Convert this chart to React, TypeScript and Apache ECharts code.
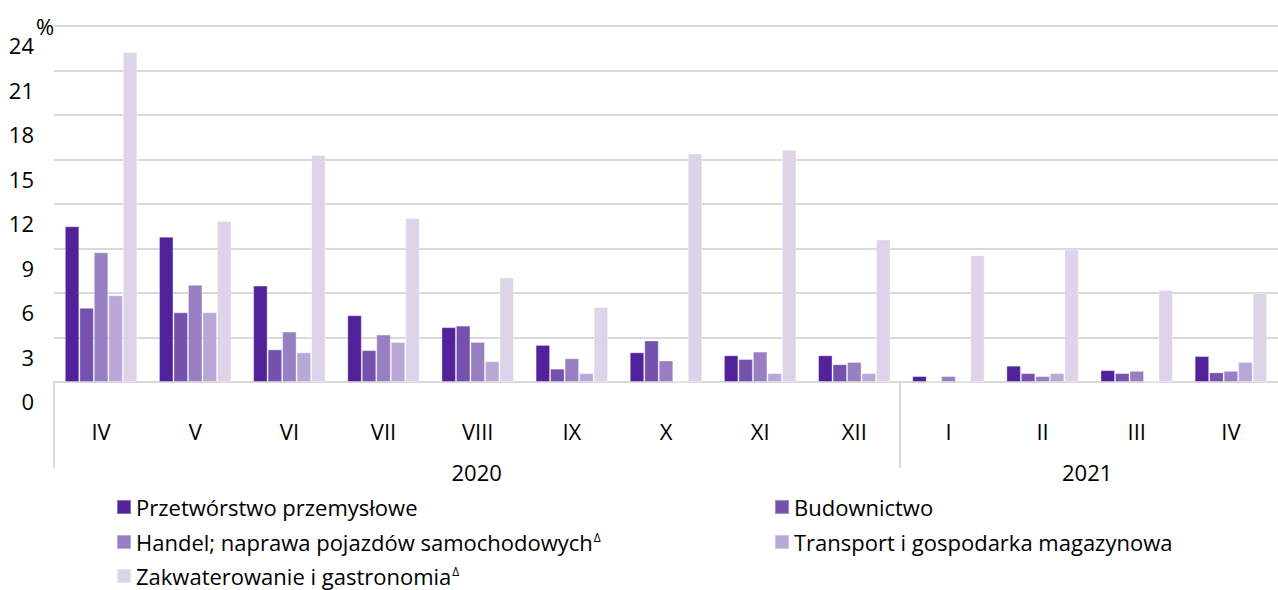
import React, { useEffect, useRef } from "react";
import * as echarts from "echarts";

const months = ["IV", "V", "VI", "VII", "VIII", "IX", "X", "XI", "XII", "I", "II", "III", "IV"];
const yearSlots = ["", "", "", "", "", "", "", "", "", "2020", "", "", "", "", "", "", "", "", "", "", "", "", "2021", "", "", "", ""];

const seriesNames = [
  "Przetwórstwo przemysłowe",
  "Budownictwo",
  "Handel; naprawa pojazdów samochodowych",
  "Transport i gospodarka magazynowa",
  "Zakwaterowanie i gastronomia",
];
const superscripted = [false, false, true, false, true];

const przetworstwo = [10.5, 9.8, 6.5, 4.5, 3.7, 2.5, 2.0, 1.8, 1.8, 0.4, 1.1, 0.8, 1.75];
const budownictwo = [5.0, 4.7, 2.2, 2.15, 3.8, 0.9, 2.8, 1.55, 1.2, 0, 0.6, 0.6, 0.65];
const handel = [8.75, 6.55, 3.4, 3.2, 2.7, 1.6, 1.45, 2.05, 1.35, 0.4, 0.4, 0.75, 0.75];
const transport = [5.85, 4.7, 2.0, 2.7, 1.4, 0.6, 0, 0.6, 0.6, 0, 0.6, 0, 1.35];
const zakwaterowanie = [22.25, 10.85, 15.3, 11.05, 7.05, 5.05, 15.4, 15.65, 9.6, 8.55, 8.95, 6.2, 6.0];

const seriesValues = [przetworstwo, budownictwo, handel, transport, zakwaterowanie];
const colors = ["#52229A", "#7551AE", "#977FC1", "#B9A7D7", "#DDD4EA"];

const yTicks = { min: 0, max: 24, interval: 3 };

// legend layout: [column, row] for each series
const legendSlots = [[0, 0], [1, 0], [0, 1], [1, 1], [0, 2]];

const FONT = "'Open Sans', 'Noto Sans', sans-serif";
const FS = 22;

export default function App() {
  const ref = useRef<HTMLDivElement>(null);

  useEffect(() => {
    if (!ref.current) return;
    const chart = echarts.init(ref.current, null, { renderer: "svg" });

    const legendFormatter = (name: string) => {
      const i = seriesNames.indexOf(name);
      return superscripted[i] ? name + "{s|Δ}" : name;
    };
    const legendText = {
      fontSize: FS,
      fontFamily: FONT,
      color: "#000",
      lineHeight: 22,
      rich: {
        s: { fontSize: 12, fontFamily: FONT, color: "#000", verticalAlign: "top", lineHeight: 10, padding: [0, 0, 10, 1] },
      },
    };
    const colLeft = [116, 774];
    const rowTop = [496, 531, 565];

    chart.setOption({
      animation: false,
      grid: [
        { left: 54, top: 26, width: 1235, height: 356 },
        { left: 54, top: 381, width: 1235, height: 1 },
      ],
      xAxis: [
        {
          type: "category",
          gridIndex: 0,
          data: months,
          boundaryGap: true,
          axisLine: { show: true, lineStyle: { color: "#D9D9D9", width: 2 } },
          axisTick: { show: false },
          axisLabel: { interval: 0, margin: 38, fontSize: FS, fontFamily: FONT, color: "#000" },
        },
        {
          type: "category",
          gridIndex: 1,
          data: yearSlots,
          boundaryGap: false,
          axisLine: { show: false },
          axisTick: {
            show: true,
            length: 86,
            interval: (index: number) => index === 0 || index === 18,
            lineStyle: { color: "#D9D9D9", width: 2 },
          },
          axisLabel: { interval: 0, margin: 79, fontSize: FS, fontFamily: FONT, color: "#000" },
        },
      ],
      yAxis: [
        {
          type: "value",
          gridIndex: 0,
          min: yTicks.min,
          max: yTicks.max,
          interval: yTicks.interval,
          axisLine: { show: false },
          axisTick: { show: false },
          splitLine: { show: true, lineStyle: { color: "#D9D9D9", width: 2 } },
          axisLabel: {
            margin: 20,
            fontSize: FS,
            fontFamily: FONT,
            color: "#000",
            verticalAlign: "top",
            lineHeight: 22,
            padding: [8, 0, 0, 0],
          },
        },
        { type: "value", gridIndex: 1, show: false, min: 0, max: 1 },
      ],
      legend: seriesNames.map((name, i) => ({
        orient: "horizontal",
        left: colLeft[legendSlots[i][0]],
        top: rowTop[legendSlots[i][1]],
        padding: 0,
        itemWidth: 14,
        itemHeight: 14,
        icon: "rect",
        data: [name],
        formatter: legendFormatter,
        textStyle: legendText,
        selectedMode: false,
      })),
      graphic: [
        {
          type: "text",
          left: 36,
          top: 15,
          style: { text: "%", fontSize: FS, fontFamily: FONT, fill: "#000" },
        },
      ],
      series: seriesNames.map((name, i) => ({
        type: "bar",
        name,
        xAxisIndex: 0,
        yAxisIndex: 0,
        data: seriesValues[i],
        barGap: "0%",
        barCategoryGap: "23%",
        itemStyle: { color: colors[i], borderColor: "rgba(255,255,255,0.35)", borderWidth: 1 },
      })),
    });

    return () => chart.dispose();
  }, []);

  return (
    <div
      ref={ref}
      style={{ position: "fixed", left: 0, top: 0, width: 1278, height: 590, background: "#fff" }}
    />
  );
}
